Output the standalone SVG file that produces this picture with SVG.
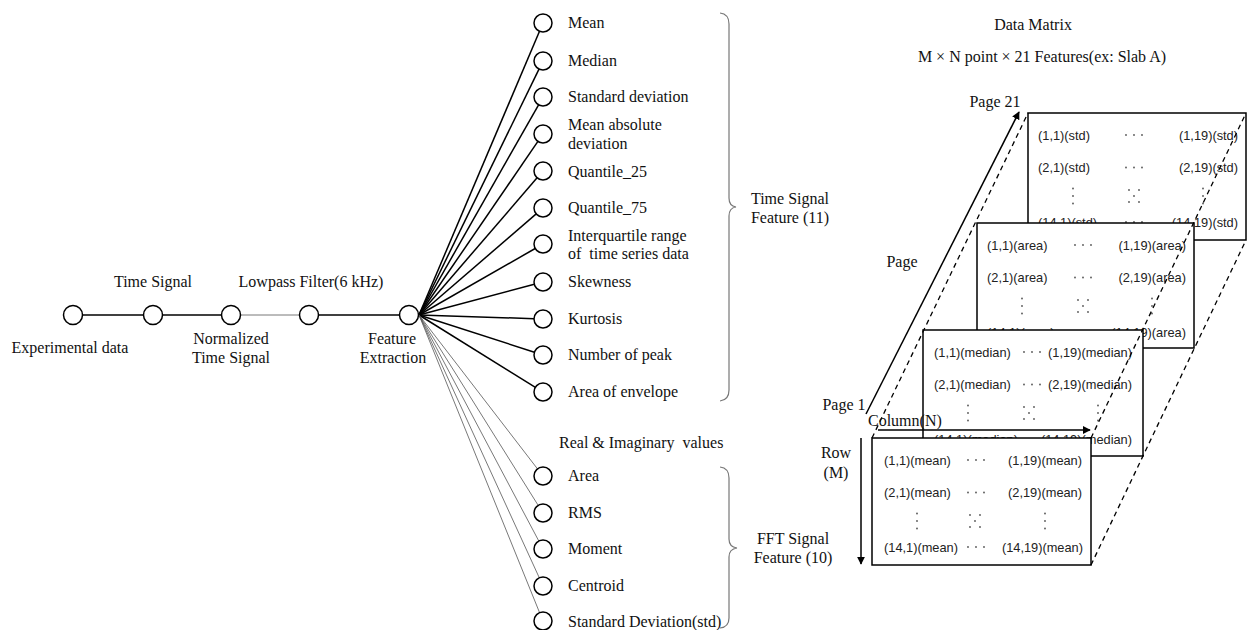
<svg xmlns="http://www.w3.org/2000/svg" xmlns:xlink="http://www.w3.org/1999/xlink" width="1247" height="630" viewBox="0 0 1247 630">
<style>
.serif{font-family:"Liberation Serif","Times New Roman",serif;font-size:16px;fill:#111}
.mid{text-anchor:middle}
.cell{font-family:"Liberation Sans",Arial,sans-serif;font-size:12.8px;fill:#222}
.end{text-anchor:end}
.node{fill:#fff;stroke:#000;stroke-width:1.5}
.edge{stroke:#000;stroke-width:1.5;fill:none}
.thin{stroke:#555;stroke-width:0.8;fill:none}
.brace{fill:none;stroke:#777;stroke-width:1.2}
.dash{stroke:#000;stroke-width:1.3;stroke-dasharray:5 4;fill:none}
.mat{fill:#fff;stroke:#000;stroke-width:1.5}
.arr{stroke:#000;stroke-width:1.5;fill:none;marker-end:url(#ah)}
.dot{fill:#555}
</style>
<defs>
<marker id="ah" viewBox="0 0 10 10" refX="9" refY="5" markerWidth="8" markerHeight="8" markerUnits="userSpaceOnUse" orient="auto">
<path d="M0,0 L10,5 L0,10 z" fill="#000"/>
</marker>
<g id="hd"><circle class="dot" cx="-8" cy="0" r="0.9"/><circle class="dot" cx="0" cy="0" r="0.9"/><circle class="dot" cx="8" cy="0" r="0.9"/></g>
<g id="vd"><circle class="dot" cx="0" cy="-7.5" r="0.9"/><circle class="dot" cx="0" cy="0" r="0.9"/><circle class="dot" cx="0" cy="7.5" r="0.9"/></g>
<g id="dd"><circle class="dot" cx="-5" cy="-6" r="0.9"/><circle class="dot" cx="5" cy="-6" r="0.9"/><circle class="dot" cx="0" cy="0" r="0.9"/><circle class="dot" cx="-5" cy="6" r="0.9"/><circle class="dot" cx="5" cy="6" r="0.9"/></g>
</defs>
<rect width="1247" height="630" fill="#fff"/>

<g id="connectors">
<line class="edge" x1="82.5" y1="315" x2="143.5" y2="315"/>
<line class="edge" x1="162.5" y1="315" x2="221.5" y2="315"/>
<line class="thin" x1="240.5" y1="315" x2="299.5" y2="315"/>
<line class="edge" x1="318.5" y1="315" x2="399.5" y2="315"/>
<line class="edge" x1="419" y1="315" x2="539.5" y2="31.3"/>
<line class="edge" x1="419" y1="315" x2="539" y2="69.1"/>
<line class="edge" x1="419" y1="315" x2="538.6" y2="104.8"/>
<line class="edge" x1="419" y1="315" x2="537.9" y2="141.4"/>
<line class="edge" x1="419" y1="315" x2="537.1" y2="177.8"/>
<line class="edge" x1="419" y1="315" x2="536.2" y2="213.9"/>
<line class="edge" x1="419" y1="315" x2="535.2" y2="248.5"/>
<line class="edge" x1="419" y1="315" x2="534.3" y2="284.3"/>
<line class="edge" x1="419" y1="315" x2="534" y2="318.7"/>
<line class="edge" x1="419" y1="315" x2="534.4" y2="352.2"/>
<line class="edge" x1="419" y1="315" x2="535.4" y2="387.3"/>
<line class="thin" x1="419" y1="315" x2="537.5" y2="468.9"/>
<line class="thin" x1="419" y1="315" x2="538.2" y2="505.4"/>
<line class="thin" x1="419" y1="315" x2="538.8" y2="541"/>
<line class="thin" x1="419" y1="315" x2="539.3" y2="577.8"/>
<line class="thin" x1="419" y1="315" x2="539.6" y2="612.7"/>
</g>

<g id="n-experimental"><circle class="node" cx="73" cy="315" r="9.5"/><text class="serif mid" x="70" y="353">Experimental data</text></g>
<g id="n-time"><circle class="node" cx="153" cy="315" r="9.5"/><text class="serif mid" x="153" y="287">Time Signal</text></g>
<g id="n-normalized"><circle class="node" cx="231" cy="315" r="9.5"/><text class="serif mid" x="231" y="344">Normalized</text><text class="serif mid" x="231" y="363">Time Signal</text></g>
<g id="n-lowpass"><circle class="node" cx="309" cy="315" r="9.5"/><text class="serif mid" x="311" y="287">Lowpass Filter(6 kHz)</text></g>
<g id="n-feature"><circle class="node" cx="409" cy="315" r="9.5"/><text class="serif mid" x="392" y="344">Feature</text><text class="serif mid" x="393" y="363">Extraction</text></g>

<g id="f-mean"><circle class="node" cx="543" cy="23" r="9"/><text class="serif" x="568" y="28">Mean</text></g>
<g id="f-median"><circle class="node" cx="543" cy="61" r="9"/><text class="serif" x="568" y="66">Median</text></g>
<g id="f-std"><circle class="node" cx="543" cy="97" r="9"/><text class="serif" x="568" y="102">Standard deviation</text></g>
<g id="f-mad"><circle class="node" cx="543" cy="134" r="9"/><text class="serif" x="568" y="130">Mean absolute</text><text class="serif" x="568" y="149">deviation</text></g>
<g id="f-q25"><circle class="node" cx="543" cy="171" r="9"/><text class="serif" x="568" y="177">Quantile_25</text></g>
<g id="f-q75"><circle class="node" cx="543" cy="208" r="9"/><text class="serif" x="568" y="213">Quantile_75</text></g>
<g id="f-iqr"><circle class="node" cx="543" cy="244" r="9"/><text class="serif" x="568" y="241">Interquartile range</text><text class="serif" x="568" y="259" xml:space="preserve">of  time series data</text></g>
<g id="f-skew"><circle class="node" cx="543" cy="282" r="9"/><text class="serif" x="568" y="287">Skewness</text></g>
<g id="f-kurt"><circle class="node" cx="543" cy="319" r="9"/><text class="serif" x="568" y="324">Kurtosis</text></g>
<g id="f-peak"><circle class="node" cx="543" cy="355" r="9"/><text class="serif" x="568" y="360">Number of peak</text></g>
<g id="f-env"><circle class="node" cx="543" cy="392" r="9"/><text class="serif" x="568" y="397">Area of envelope</text></g>

<g id="fft-header"><text class="serif" x="559" y="448" xml:space="preserve">Real &amp; Imaginary  values</text></g>
<g id="f-area"><circle class="node" cx="543" cy="476" r="9"/><text class="serif" x="568" y="481">Area</text></g>
<g id="f-rms"><circle class="node" cx="543" cy="513" r="9"/><text class="serif" x="568" y="518">RMS</text></g>
<g id="f-moment"><circle class="node" cx="543" cy="549" r="9"/><text class="serif" x="568" y="554">Moment</text></g>
<g id="f-centroid"><circle class="node" cx="543" cy="586" r="9"/><text class="serif" x="568" y="591">Centroid</text></g>
<g id="f-fstd"><circle class="node" cx="543" cy="621" r="9"/><text class="serif" x="568" y="627">Standard Deviation(std)</text></g>

<g id="brace-time">
<path class="brace" d="M720,13 Q729,14 729,24 L729,198 Q729,206 736,207 Q729,208 729,216 L729,390 Q729,400 720,401"/>
<text class="serif mid" x="790" y="204">Time Signal</text>
<text class="serif mid" x="790" y="223">Feature (11)</text>
</g>
<g id="brace-fft">
<path class="brace" d="M720,467 Q729,468 729,478 L729,539 Q729,547 737,548 Q729,549 729,557 L729,618 Q729,627 720,628"/>
<text class="serif mid" x="793" y="544">FFT Signal</text>
<text class="serif mid" x="793" y="563">Feature (10)</text>
</g>

<g id="matrix-title">
<text class="serif mid" x="1033" y="30">Data Matrix</text>
<text class="serif mid" x="1042" y="62">M × N point × 21 Features(ex: Slab A)</text>
</g>

<g id="page-std" transform="translate(1028,113)">
<rect class="mat" x="0" y="0" width="218" height="127"/>
<text class="cell" x="10" y="26.5">(1,1)(std)</text><use xlink:href="#hd" x="106" y="22"/><text class="cell end" x="210" y="26.5">(1,19)(std)</text>
<text class="cell" x="10" y="59">(2,1)(std)</text><use xlink:href="#hd" x="106" y="54.5"/><text class="cell end" x="210" y="59">(2,19)(std)</text>
<use xlink:href="#vd" x="45" y="83"/><use xlink:href="#dd" x="106" y="83"/><use xlink:href="#vd" x="175" y="83"/>
<text class="cell" x="10" y="113.5">(14,1)(std)</text><use xlink:href="#hd" x="106" y="109"/><text class="cell end" x="210" y="113.5">(14,19)(std)</text>
</g>
<g id="page-area" transform="translate(977,223)">
<rect class="mat" x="0" y="0" width="217" height="125"/>
<text class="cell" x="10" y="26.5">(1,1)(area)</text><use xlink:href="#hd" x="106" y="22"/><text class="cell end" x="209" y="26.5">(1,19)(area)</text>
<text class="cell" x="10" y="59">(2,1)(area)</text><use xlink:href="#hd" x="106" y="54.5"/><text class="cell end" x="209" y="59">(2,19)(area)</text>
<use xlink:href="#vd" x="45" y="83"/><use xlink:href="#dd" x="106" y="83"/><use xlink:href="#vd" x="175" y="83"/>
<text class="cell" x="10" y="113.5">(14,1)(area)</text><use xlink:href="#hd" x="106" y="109"/><text class="cell end" x="209" y="113.5">(14,19)(area)</text>
</g>
<g id="page-median" transform="translate(923,330)">
<rect class="mat" x="0" y="0" width="220" height="126"/>
<text class="cell" x="11" y="26.5">(1,1)(median)</text><use xlink:href="#hd" x="109" y="22"/><text class="cell end" x="209" y="26.5">(1,19)(median)</text>
<text class="cell" x="11" y="59">(2,1)(median)</text><use xlink:href="#hd" x="109" y="54.5"/><text class="cell end" x="209" y="59">(2,19)(median)</text>
<use xlink:href="#vd" x="45" y="83"/><use xlink:href="#dd" x="106" y="83"/><use xlink:href="#vd" x="175" y="83"/>
<text class="cell" x="11" y="113.5">(14,1)(median)</text><use xlink:href="#hd" x="109" y="109"/><text class="cell end" x="209" y="113.5">(14,19)(median)</text>
</g>
<g id="page-mean" transform="translate(872,438)">
<rect class="mat" x="0" y="0" width="219" height="127"/>
<text class="cell" x="12" y="26.5">(1,1)(mean)</text><use xlink:href="#hd" x="104" y="22"/><text class="cell end" x="210" y="26.5">(1,19)(mean)</text>
<text class="cell" x="12" y="59">(2,1)(mean)</text><use xlink:href="#hd" x="104" y="54.5"/><text class="cell end" x="210" y="59">(2,19)(mean)</text>
<use xlink:href="#vd" x="45" y="83"/><use xlink:href="#dd" x="103" y="83"/><use xlink:href="#vd" x="173" y="83"/>
<text class="cell" x="12" y="113.5">(14,1)(mean)</text><use xlink:href="#hd" x="104" y="109"/><text class="cell end" x="211" y="113.5">(14,19)(mean)</text>
</g>

<g id="matrix-connectors">
<line class="dash" x1="872" y1="438" x2="1028" y2="113"/>
<line class="dash" x1="1091" y1="438" x2="1246" y2="113"/>
<line class="dash" x1="1091" y1="565" x2="1246" y2="240"/>
<line class="arr" x1="866" y1="414" x2="1019" y2="112"/>
<line class="arr" x1="878" y1="430" x2="1090" y2="430"/>
<line class="arr" x1="861" y1="438" x2="861" y2="564"/>
</g>

<g id="matrix-labels">
<text class="serif mid" x="995" y="107">Page 21</text>
<text class="serif mid" x="902" y="267">Page</text>
<text class="serif mid" x="844" y="410">Page 1</text>
<text class="serif" x="868" y="426">Column(N)</text>
<text class="serif mid" x="836" y="458">Row</text>
<text class="serif mid" x="836" y="478">(M)</text>
</g>
</svg>
